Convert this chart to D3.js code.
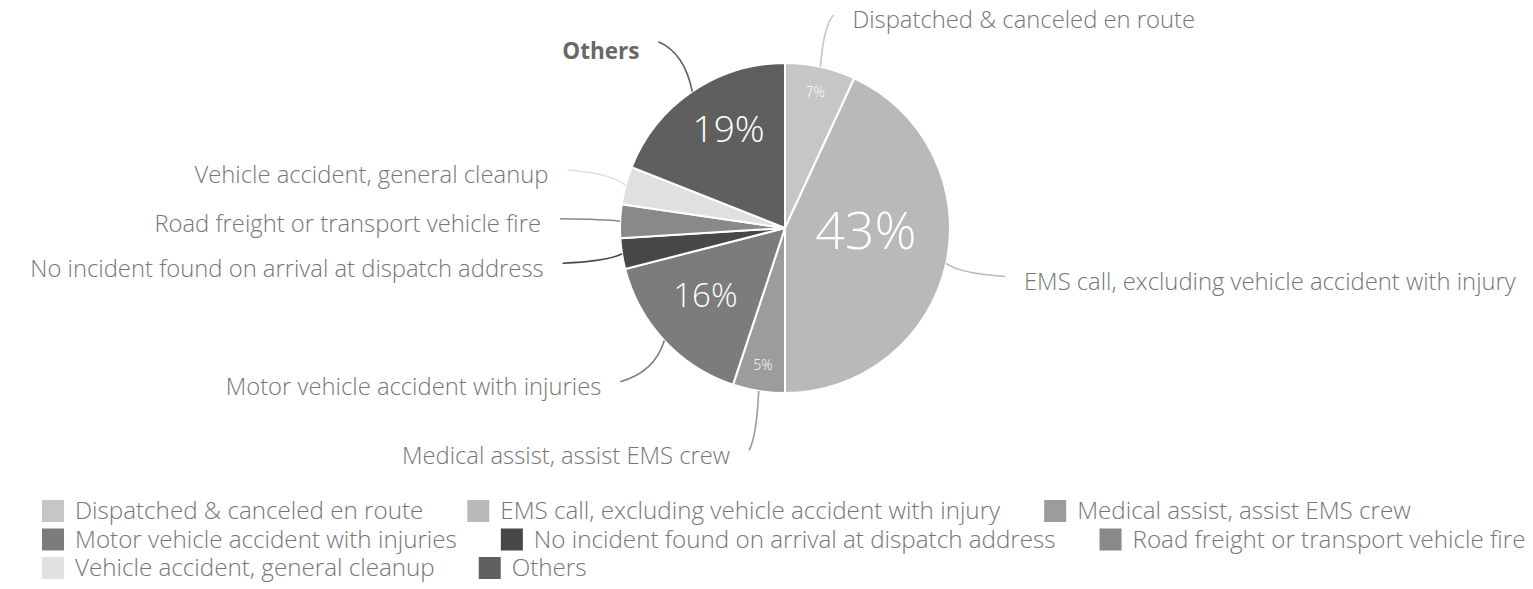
<!DOCTYPE html>
<html>
<head>
<meta charset="utf-8">
<script src="https://cdn.jsdelivr.net/npm/d3@7"></script>
<style>
  html, body { margin: 0; padding: 0; background: #fff; }
  svg { display: block; }
  text { font-family: "Open Sans", "Noto Sans", sans-serif; }
</style>
</head>
<body>
<svg id="chart" width="1533" height="589"></svg>
<script>
// ---- data ----
const categories = [
  "Dispatched & canceled en route",
  "EMS call, excluding vehicle accident with injury",
  "Medical assist, assist EMS crew",
  "Motor vehicle accident with injuries",
  "No incident found on arrival at dispatch address",
  "Road freight or transport vehicle fire",
  "Vehicle accident, general cleanup",
  "Others"
];
const values = [6.9, 43.1, 5.1, 15.9, 3.0, 3.3, 3.7, 19.0];
const colors = ["#c6c6c6", "#b9b9b9", "#9c9c9c", "#7c7c7c", "#474747", "#898989", "#e0e0e0", "#5f5f5f"];

// ---- layout / style (not data) ----
const W = 1533, H = 589;
const cx = 785, cy = 228, R = 165;
const labelTextColor = "#767676";
const FS = 23.8, LFS = 24.2;
// in-slice percentage label placement: radius fraction, angle nudge (deg), font size
const inLabel = {
  0: { rf: 0.85, da: 0,   fs: 14 },
  1: { rf: 0.49, da: -12, fs: 52 },
  2: { rf: 0.84, da: 0,   fs: 14 },
  3: { rf: 0.63, da: 3,   fs: 33 },
  7: { rf: 0.70, da: 5,   fs: 37 }
};

const svg = d3.select("#chart");
const g = svg.append("g").attr("transform", `translate(${cx},${cy})`);

const pie = d3.pie().sort(null).value(d => d);
const arcs = pie(values);
const arc = d3.arc().innerRadius(0).outerRadius(R);

g.selectAll("path.slice")
  .data(arcs)
  .join("path")
  .attr("class", "slice")
  .attr("d", arc)
  .attr("fill", (d, i) => colors[i])
  .attr("stroke", "#fff")
  .attr("stroke-width", 2)
  .attr("stroke-linejoin", "round");

// percentage labels
const fmt = v => Math.round(v) + "%";
g.selectAll("text.pct")
  .data(arcs.filter((d, i) => inLabel[i] !== undefined))
  .join("text")
  .attr("class", "pct")
  .each(function(d) {
    const L = inLabel[d.index];
    const a = (d.startAngle + d.endAngle) / 2 + L.da * Math.PI / 180;
    const r = R * L.rf;
    d3.select(this)
      .attr("x", r * Math.sin(a))
      .attr("y", -r * Math.cos(a))
      .style("font-size", L.fs + "px")
      .text(fmt(values[d.index]));
  })
  .attr("text-anchor", "middle")
  .attr("dominant-baseline", "central")
  .style("font-weight", 300)
  .attr("fill", "#fff");

// outer labels with curved connectors
const endR = R * 1.365;
const gap = 19;
const minY = 15 - cy; // keep top labels inside the view
arcs.forEach((d, i) => {
  const a = (d.startAngle + d.endAngle) / 2;
  const sx = R * Math.sin(a), sy = -R * Math.cos(a);
  const ex = endR * Math.sin(a), ey = Math.max(-endR * Math.cos(a), minY);
  const k = 0.55;
  const mx = (sx + ex) / 2, my = (sy + ey) / 2;
  const qx = mx + (sx - mx) * k, qy = my + (ey - my) * k;
  const p = d3.path();
  p.moveTo(sx, sy);
  p.quadraticCurveTo(qx, qy, ex, ey);
  g.append("path")
    .attr("d", p.toString())
    .attr("fill", "none")
    .attr("stroke", colors[i])
    .attr("stroke-width", 1.6);
  const right = Math.sin(a) > 0;
  const isOthers = categories[i] === "Others";
  g.append("text")
    .attr("x", ex + (right ? gap : -gap))
    .attr("y", ey + (isOthers ? 9 : 5))
    .attr("dy", "0.35em")
    .attr("text-anchor", right ? "start" : "end")
    .style("font-size", (isOthers ? 22.5 : FS) + "px")
    .style("font-weight", isOthers ? 700 : 300)
    .attr("fill", isOthers ? "#686868" : labelTextColor)
    .text(categories[i]);
});

// legend (flow layout)
const legend = svg.append("g");
const sw = 22, rowH = 28.5, x0 = 42, y0 = 511, itemGap = 44, textGap = 11, maxX = W;
let lx = x0, ly = y0;
categories.forEach((c, i) => {
  const item = legend.append("g");
  const t = item.append("text")
    .attr("x", sw + textGap)
    .attr("y", 0)
    .attr("dy", "0.35em")
    .style("font-size", LFS + "px")
    .style("font-weight", 300)
    .attr("fill", labelTextColor)
    .text(c);
  const w = sw + textGap + t.node().getComputedTextLength();
  if (lx + w > maxX && lx > x0) { lx = x0; ly += rowH; }
  item.attr("transform", `translate(${lx},${ly})`);
  item.insert("rect", "text")
    .attr("x", 0).attr("y", -sw / 2)
    .attr("width", sw).attr("height", sw)
    .attr("fill", colors[i]);
  lx += w + itemGap;
});
</script>
</body>
</html>
